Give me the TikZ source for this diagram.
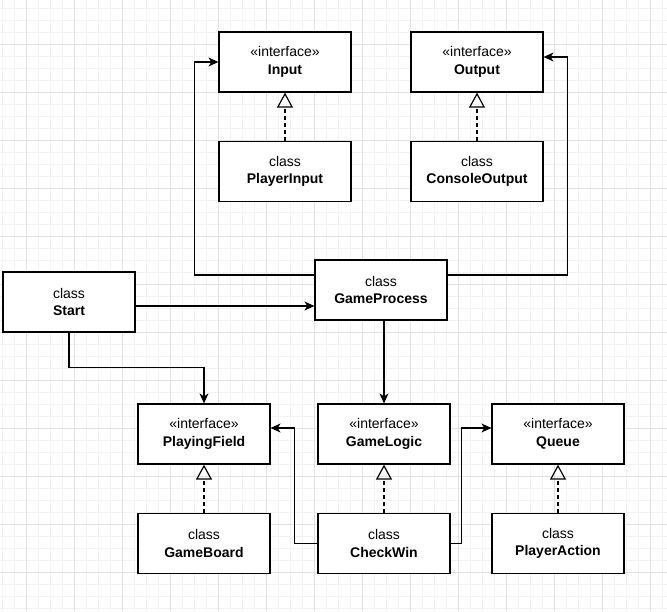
\documentclass[tikz,border=0pt]{standalone}
\usepackage{fontspec}
\setmainfont{Liberation Sans}
\usepackage{tikz}
\usetikzlibrary{arrows.meta,positioning}

\begin{document}
\begin{tikzpicture}[
        x=1pt, y=-1pt,
        node distance = 48pt and 48pt,
        minorline/.style = {draw=black!5, line width=0.8pt},
        majorline/.style = {draw=black!12, line width=0.8pt},
        umlbox/.style = {
                rectangle,
                draw,
                line width=1.2pt,
                fill=white,
                minimum width=132pt,
                minimum height=60pt,
                inner sep=0pt,
                align=center,
                font=\fontsize{14}{17.6}\selectfont,
            },
        assoc/.style = {
                line width=1.2pt,
                -{Stealth[length=10pt,width=9pt,inset=3pt]},
            },
        realize/.style = {
                line width=1.2pt,
                dash pattern=on 4pt off 3pt,
                -{Triangle[open,length=15pt,width=16pt,line width=1.2pt]},
            },
    ]
    \useasboundingbox (0,0) rectangle (667,611);
    \fill[white] (0,0) rectangle (667,611);
    \foreach \x in {2.7,14.7,...,667}
    \draw[minorline] (\x,0) -- (\x,611);
    \foreach \y in {8.3,20.3,...,611}
    \draw[minorline] (0,\y) -- (667,\y);
    \foreach \x in {26.7,74.7,...,667}
    \draw[majorline] (\x,0) -- (\x,611);
    \foreach \y in {44.3,92.3,...,611}
    \draw[majorline] (0,\y) -- (667,\y);

    \begin{scope}[every node/.append style={umlbox}]
        \node (Input) at (285,62) {«interface»\\\textbf{Input}};
        \node (Output) at (477,62) {«interface»\\\textbf{Output}};
        \node[below=of Input] (PlayerInput) {class\\\textbf{PlayerInput}};
        \node[below=of Output] (ConsoleOutput) {class\\\textbf{ConsoleOutput}};
        \node (Start) at (69,302) {class\\\textbf{Start}};
        \node (GameProcess) at (381,290) {class\\\textbf{GameProcess}};
        \node (PlayingField) at (204,434) {«interface»\\\textbf{PlayingField}};
        \node (GameLogic) at (384,434) {«interface»\\\textbf{GameLogic}};
        \node (Queue) at (558,434) {«interface»\\\textbf{Queue}};
        \node[below=of PlayingField] (GameBoard) {class\\\textbf{GameBoard}};
        \node[below=of GameLogic] (CheckWin) {class\\\textbf{CheckWin}};
        \node[below=of Queue] (PlayerAction) {class\\\textbf{PlayerAction}};
    \end{scope}

    \draw[realize] (PlayerInput) -- (Input);
    \draw[realize] (ConsoleOutput) -- (Output);
    \draw[realize] (GameBoard) -- (PlayingField);
    \draw[realize] (CheckWin) -- (GameLogic);
    \draw[realize] (PlayerAction) -- (Queue);

    \draw[assoc] ([yshift=15pt]GameProcess.west) -| ([xshift=-24pt]Input.west) -- (Input.west);
    \draw[assoc] ([yshift=15pt]GameProcess.east) -| ([xshift=24pt,yshift=5pt]Output.east) -- ([yshift=5pt]Output.east);
    \draw[assoc] ([yshift=-4pt]Start.east) -- ([yshift=-4pt]Start.east -| GameProcess.west);
    \draw[assoc] (Start.south) |- ([yshift=36pt]PlayingField.north) -- (PlayingField.north);
    \draw[assoc] (GameLogic.north |- GameProcess.south) -- (GameLogic.north);
    \draw[assoc] (CheckWin.west) -| ([xshift=24pt,yshift=6pt]PlayingField.east) -- ([yshift=6pt]PlayingField.east);
    \draw[assoc] (CheckWin.east) -| ([xshift=-30pt,yshift=6pt]Queue.west) -- ([yshift=6pt]Queue.west);
\end{tikzpicture}
\end{document}
